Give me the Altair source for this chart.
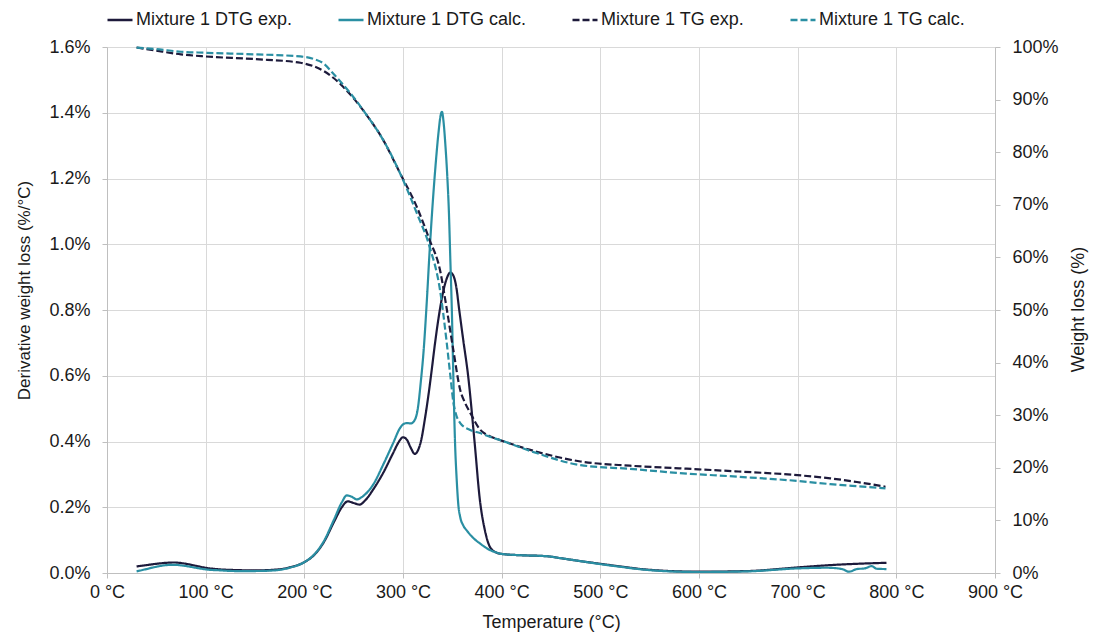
import altair as alt
import pandas as pd

# ---- data ----
series_names = ["Mixture 1 DTG exp.", "Mixture 1 DTG calc.", "Mixture 1 TG exp.", "Mixture 1 TG calc."]
series_colors = ["#1d1a3b", "#2a8fa3", "#1d1a3b", "#2a8fa3"]

t_dtg_exp = [30, 40, 50, 60, 68, 78, 90, 100, 115, 130, 150, 170, 185, 200, 210, 220, 230, 238, 244, 250,
             256, 262, 270, 280, 290, 296, 300, 304, 308, 312, 315, 318.5, 322, 325.5, 329, 332.5, 336,
             340, 344, 348, 351, 354, 357, 361, 366, 372.5, 378, 383, 388, 394, 400, 420, 440, 446, 460,
             480, 500, 520, 545, 570, 600, 650, 700, 733, 760, 790]
dtg_exp = [0.020, 0.024, 0.028, 0.031, 0.032, 0.029, 0.022, 0.016, 0.011, 0.009, 0.008, 0.010, 0.017, 0.033,
           0.055, 0.095, 0.155, 0.200, 0.218, 0.213, 0.208, 0.222, 0.255, 0.305, 0.365, 0.400, 0.413, 0.405,
           0.380, 0.362, 0.372, 0.405, 0.465, 0.535, 0.615, 0.700, 0.775, 0.845, 0.893, 0.914, 0.905,
           0.870, 0.800, 0.710, 0.600, 0.400, 0.220, 0.130, 0.080, 0.063, 0.058, 0.054, 0.052, 0.051, 0.045,
           0.036, 0.028, 0.020, 0.011, 0.006, 0.004, 0.006, 0.017, 0.024, 0.028, 0.031]

t_dtg_calc = [30, 40, 50, 60, 68, 78, 90, 100, 115, 130, 150, 170, 185, 200, 210, 220, 230, 238, 243, 248,
              253, 260, 270, 280, 290, 297, 300, 303.7, 308, 312, 315, 318, 321, 324, 327, 330, 333, 336,
              338, 339.5, 341, 343, 345, 346.5, 348, 349.5, 351, 352.7, 354.5, 356, 358, 361, 365, 370, 378,
              388, 394, 400, 420, 440, 446, 460, 480, 500, 520, 545, 570, 600, 650, 700, 730, 745, 752, 760,
              768, 775, 780, 790]
dtg_calc = [0.005, 0.012, 0.019, 0.024, 0.025, 0.022, 0.016, 0.011, 0.008, 0.006, 0.006, 0.008, 0.016, 0.033,
            0.056, 0.098, 0.162, 0.215, 0.236, 0.232, 0.224, 0.235, 0.270, 0.330, 0.395, 0.441, 0.452, 0.456,
            0.455, 0.466, 0.500, 0.580, 0.680, 0.820, 0.980, 1.120, 1.240, 1.340, 1.390, 1.403, 1.375, 1.300,
            1.200, 1.100, 0.950, 0.800, 0.600, 0.400, 0.280, 0.210, 0.170, 0.145, 0.128, 0.110, 0.090, 0.070,
            0.063, 0.058, 0.054, 0.052, 0.051, 0.045, 0.036, 0.027, 0.019, 0.010, 0.005, 0.003, 0.005, 0.014,
            0.016, 0.012, 0.004, 0.012, 0.014, 0.021, 0.013, 0.012]

t_tg_exp = [30, 50, 75, 100, 150, 196, 210, 220, 229, 245, 263, 280, 297, 314, 327, 337.5, 344, 351, 358,
            363, 368, 378, 388, 398, 429, 480, 530, 580, 640, 700, 733, 760, 789]
tg_exp = [99.9, 99.3, 98.6, 98.2, 97.7, 97.0, 96.3, 95.4, 94.2, 91.3, 87.1, 82.3, 76.0, 69.6, 63.3, 57.6,
          50.6, 42.4, 34.8, 32.3, 30.5, 27.3, 26.0, 25.3, 23.4, 21.2, 20.4, 19.9, 19.3, 18.6, 18.0, 17.3, 16.4]

t_tg_calc = [30, 50, 75, 100, 150, 196, 210, 220, 229, 245, 263, 280, 297, 314, 327, 337.5, 344, 348, 351,
             354, 358, 368, 378, 388, 398, 429, 480, 530, 580, 640, 700, 733, 760, 789]
tg_calc = [99.9, 99.6, 99.1, 98.9, 98.6, 98.2, 97.7, 96.8, 95.0, 91.6, 87.1, 82.3, 76.0, 68.4, 62.0, 53.8,
           44.3, 37.5, 32.5, 30.0, 28.5, 27.2, 26.6, 25.9, 25.3, 23.2, 20.5, 19.8, 19.0, 18.3, 17.5, 16.9,
           16.5, 16.1]

x_ticks = list(range(0, 901, 100))
left_ticks = [0, 0.2, 0.4, 0.6, 0.8, 1.0, 1.2, 1.4, 1.6]
right_ticks = list(range(0, 101, 10))

# ---- long table ----
def block(ts, vs, name, kind):
    return pd.DataFrame({"T": ts, "value": vs, "series": name, "kind": kind})

df = pd.concat([
    block(t_dtg_exp, dtg_exp, series_names[0], "DTG"),
    block(t_dtg_calc, dtg_calc, series_names[1], "DTG"),
    block(t_tg_exp, tg_exp, series_names[2], "TG"),
    block(t_tg_calc, tg_calc, series_names[3], "TG"),
], ignore_index=True)

FONT = "Liberation Sans"
TXT = "#1a1a1a"
GRID = "#d9d9d9"
AXC = "#bfbfbf"

x_enc = alt.X("T:Q", scale=alt.Scale(domain=[0, 900], nice=False),
              axis=alt.Axis(values=x_ticks, labelExpr="datum.value + ' °C'", title="Temperature (°C)",
                            grid=True, gridColor=GRID, domainColor=AXC, tickColor=AXC, tickSize=5,
                            labelPadding=5, labelFontSize=18, titleFontSize=18, titleFontWeight="normal",
                            labelFont=FONT, titleFont=FONT, labelColor=TXT, titleColor=TXT,
                            titleY=40, titleBaseline="top", labelFlush=False))

legend = alt.Legend(orient="none", legendX=-1, legendY=-41, direction="horizontal", columns=4,
                    title=None, symbolType="stroke", symbolSize=625, symbolStrokeWidth=2.5,
                    labelFontSize=18, labelFont=FONT, labelColor=TXT, labelOffset=2,
                    columnPadding=40, padding=0, labelLimit=300)

color_enc = alt.Color("series:N", scale=alt.Scale(domain=series_names, range=series_colors), legend=legend)
dash_enc = alt.StrokeDash("series:N", scale=alt.Scale(domain=series_names,
                                                      range=[[1, 0], [1, 0], [7, 3], [7, 3]]), legend=legend)

dtg = alt.Chart(df).transform_filter("datum.kind == 'DTG'").mark_line(
    strokeWidth=2.2, interpolate="monotone").encode(
    x=x_enc,
    y=alt.Y("value:Q", scale=alt.Scale(domain=[0, 1.6], nice=False),
            axis=alt.Axis(orient="left", values=left_ticks, labelExpr="format(datum.value, '.1f') + '%'",
                          title="Derivative weight loss (%/°C)", grid=True, gridColor=GRID,
                          domainColor=AXC, tickColor=AXC, tickSize=5, labelPadding=12,
                          labelFontSize=18, titleFontSize=17, titleFontWeight="normal",
                          labelFont=FONT, titleFont=FONT, labelColor=TXT, titleColor=TXT,
                          titleX=-74, titleY=243, titleAngle=270, titleBaseline="bottom", titleAlign="center")),
    color=color_enc,
    strokeDash=dash_enc,
)

tg = alt.Chart(df).transform_filter("datum.kind == 'TG'").mark_line(
    strokeWidth=2.2, interpolate="monotone").encode(
    x=x_enc,
    y=alt.Y("value:Q", scale=alt.Scale(domain=[0, 100], nice=False),
            axis=alt.Axis(orient="right", values=right_ticks, labelExpr="datum.value + '%'",
                          title="Weight loss (%)", grid=False,
                          domainColor=AXC, tickColor=AXC, tickSize=5, labelPadding=12,
                          labelFontSize=18, titleFontSize=18, titleFontWeight="normal",
                          labelFont=FONT, titleFont=FONT, labelColor=TXT, titleColor=TXT,
                          titleX=92, titleY=262, titleAngle=270, titleBaseline="bottom", titleAlign="center")),
    color=color_enc,
    strokeDash=dash_enc,
)

chart = alt.layer(dtg, tg).resolve_scale(y="independent").properties(
    width=888, height=526,
    padding={"left": 107, "top": 47, "right": 102, "bottom": 68},
    autosize=alt.AutoSizeParams(type="none"),
    background="white",
).configure_view(stroke=None)

chart.save("out.html", embed_options={"renderer": "svg", "actions": False})
